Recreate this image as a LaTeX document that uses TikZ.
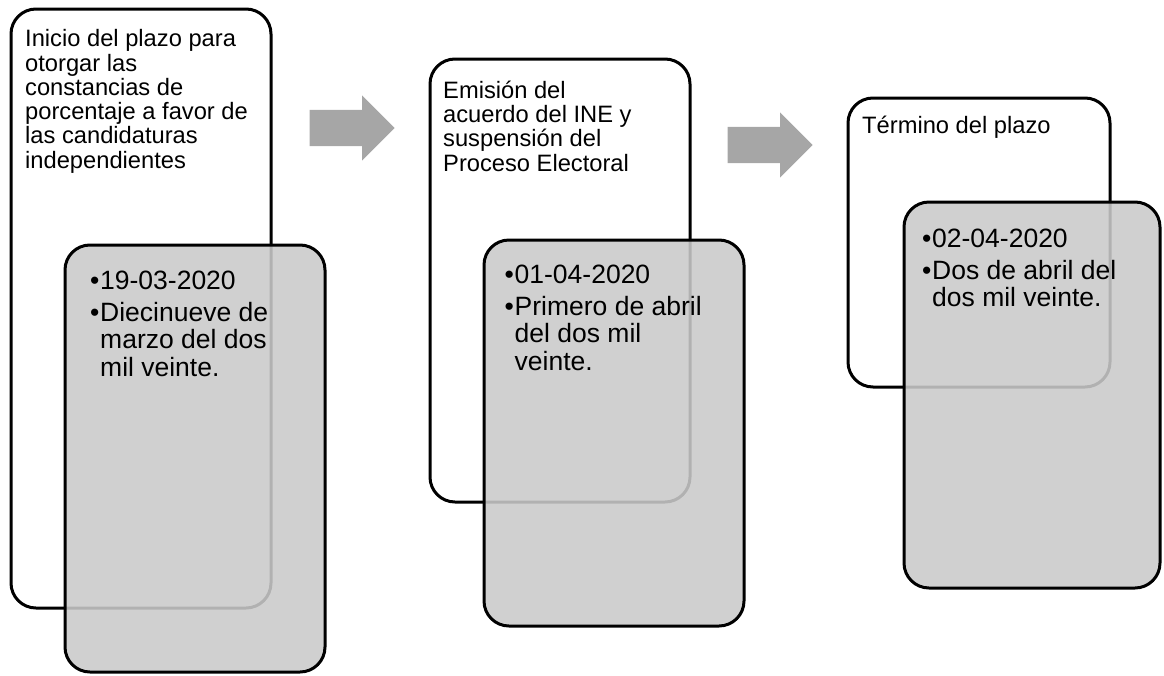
\documentclass[tikz,border=0pt]{standalone}
\usepackage{fontspec}
\setmainfont{Liberation Sans}
\usetikzlibrary{shapes.arrows}
\definecolor{flechagris}{RGB}{166,166,166}
\definecolor{rellenogris}{RGB}{202,202,202}

\begin{document}
\begin{tikzpicture}[x=1pt,y=-1pt,
                caja/.style={draw=black,line width=3pt,rounded corners=25pt,fill=white,inner sep=0pt,outer sep=0pt,anchor=north west,minimum width=260pt},
                fecha/.style={caja,fill=rellenogris,fill opacity=0.88},
                titulo/.style={anchor=north west,align=left,inner sep=0pt,font=\fontsize{23.7}{24.3}\selectfont},
                lista/.style={anchor=north west,align=left,inner sep=0pt,font=\fontsize{26.5}{27.5}\selectfont},
                flecha/.style={single arrow,fill=flechagris,draw=none,inner xsep=0pt,inner ysep=18pt,single arrow head extend=14.5pt,minimum height=85pt,anchor=tip}]
                \useasboundingbox (0,0) rectangle (1164,675);
                \node[caja,minimum height=599pt] (caja1) at (11,9) {};
                \node[titulo] (titulo1) at (25,27.5) {\rule{0pt}{19pt}Inicio del plazo para\\otorgar las\\constancias de\\porcentaje a favor de\\las candidaturas\\independientes};
                \node[fecha,minimum height=427pt] (fecha1) at (65,245) {};
                \node[lista] (lista1) at (90,268) {\rule{0pt}{21pt}\makebox[10pt][l]{\textbullet}19-03-2020\\[4.5pt]\makebox[10pt][l]{\textbullet}Diecinueve de\\\hspace*{10pt}marzo del dos\\\hspace*{10pt}mil veinte.};
                \node[flecha] (flecha1) at (395,128) {};
                \node[caja,minimum height=443pt] (caja2) at (430,59) {};
                \node[titulo] (titulo2) at (443,79) {\rule{0pt}{19pt}Emisión del\\acuerdo del INE y\\suspensión del\\Proceso Electoral};
                \node[fecha,minimum height=386pt] (fecha2) at (484,240) {};
                \node[lista] (lista2) at (504.5,262) {\rule{0pt}{21pt}\makebox[10pt][l]{\textbullet}01-04-2020\\[4.5pt]\makebox[10pt][l]{\textbullet}Primero de abril\\\hspace*{10pt}del dos mil\\\hspace*{10pt}veinte.};
                \node[flecha] (flecha2) at (813,145) {};
                \node[caja,minimum width=262pt,minimum height=289pt] (caja3) at (848,98) {};
                \node[titulo] (titulo3) at (862,114) {\rule{0pt}{19pt}Término del plazo};
                \node[fecha,minimum width=256pt,minimum height=386pt] (fecha3) at (904,202) {};
                \node[lista] (lista3) at (922,226) {\rule{0pt}{21pt}\makebox[10pt][l]{\textbullet}02-04-2020\\[4.5pt]\makebox[10pt][l]{\textbullet}Dos de abril del\\\hspace*{10pt}dos mil veinte.};
            \end{tikzpicture}
\end{document}
